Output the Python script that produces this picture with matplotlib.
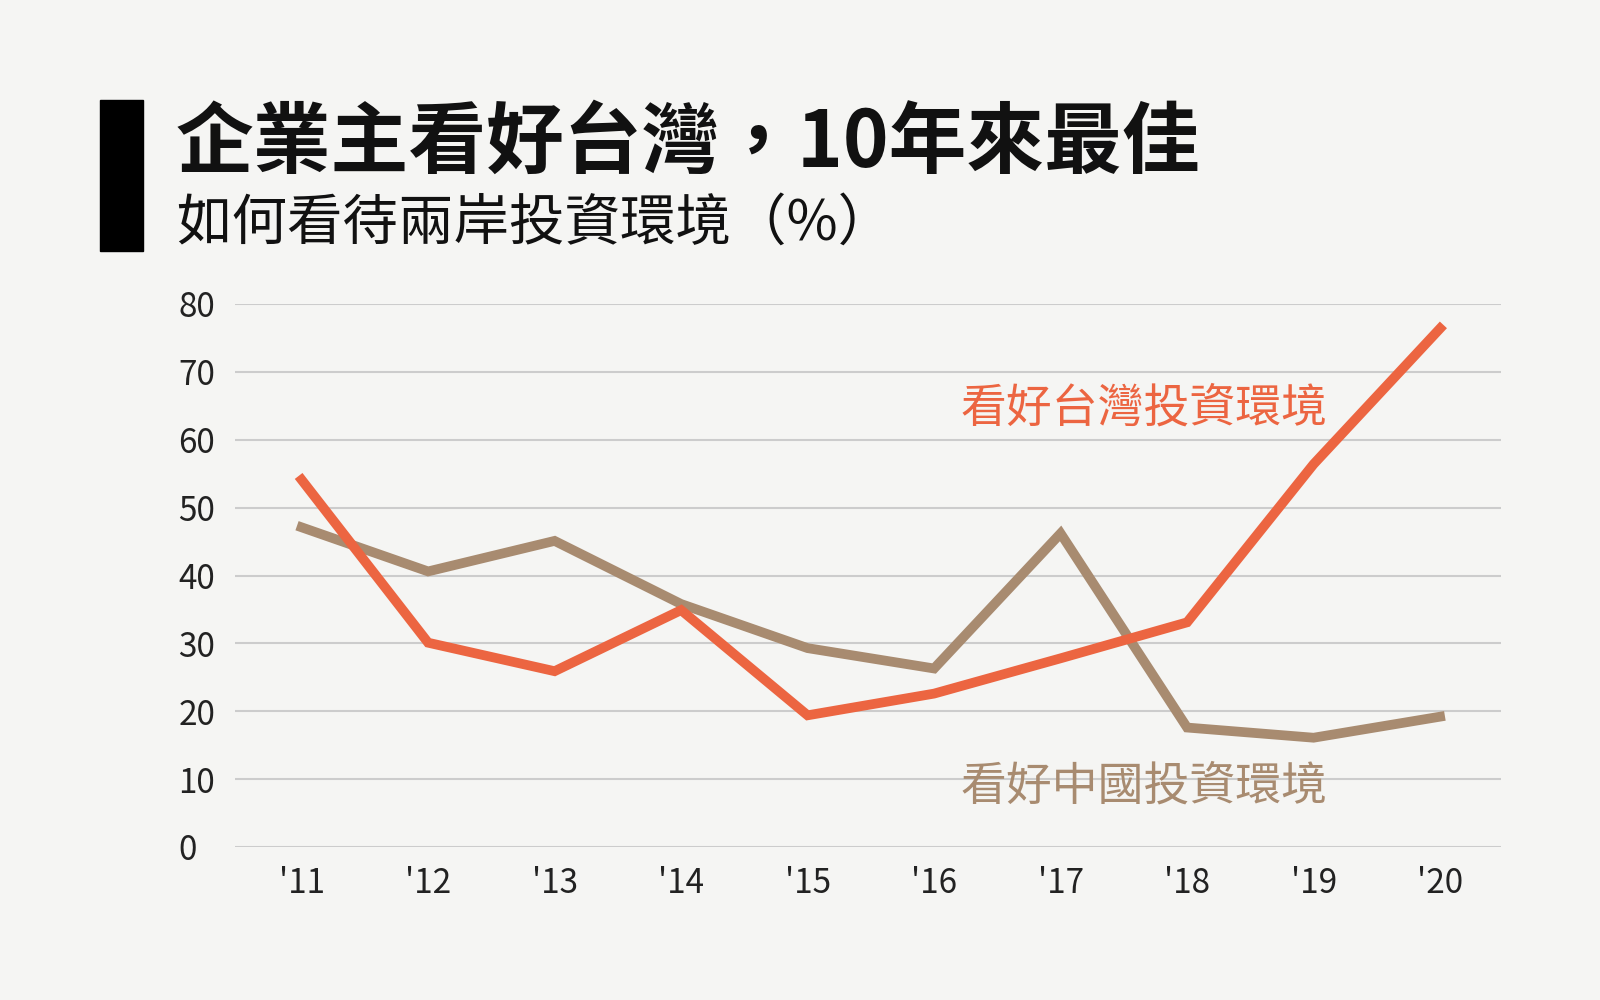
import matplotlib
matplotlib.use('Agg')
import matplotlib.pyplot as plt
from matplotlib.patches import Rectangle

plt.rcParams['font.family'] = ['Noto Sans CJK TC', 'DejaVu Sans']

years = ["'11", "'12", "'13", "'14", "'15", "'16", "'17", "'18", "'19", "'20"]
taiwan = [54.1, 30.1, 25.9, 34.9, 19.4, 22.6, 27.8, 33.1, 56.4, 76.4]
china = [47.1, 40.6, 45.1, 35.8, 29.3, 26.3, 46.2, 17.6, 16.1, 19.2]
yticks = [0, 10, 20, 30, 40, 50, 60, 70, 80]

bg = '#f5f5f3'
orange = '#ec6541'
brown = '#a88b70'

fig = plt.figure(figsize=(16, 10), dpi=100, facecolor=bg)
ax = fig.add_axes([0.147, 0.153, 0.791, 0.543], facecolor=bg)

x = range(len(years))
ax.plot(x, china, color=brown, lw=7, solid_joinstyle='miter', zorder=3)
ax.plot(x, taiwan, color=orange, lw=7, solid_joinstyle='miter', zorder=4)

ax.set_ylim(0, 80)
ax.set_xlim(-0.525, 9.48)
ax.set_yticks(yticks)
ax.set_xticks(list(x))
ax.set_xticklabels(years)
ax.grid(axis='y', color='#cccccc', lw=1.5)
ax.set_axisbelow(True)
for s in ax.spines.values():
    s.set_visible(False)
ax.tick_params(length=0, labelsize=24, colors='#222222')
ax.tick_params(axis='x', pad=14)
ax.tick_params(axis='y', pad=0)
for lab in ax.get_yticklabels():
    lab.set_horizontalalignment('left')
    lab.set_x(-0.045)

ax.text(6.66, 64.7, '看好台灣投資環境', color=orange, fontsize=33, fontweight='medium',
        ha='center', va='center')
ax.text(6.66, 9, '看好中國投資環境', color=brown, fontsize=33, fontweight='medium',
        ha='center', va='center')

fig.patches.append(Rectangle((0.0625, 0.749), 0.027, 0.151, transform=fig.transFigure,
                             color='black'))
fig.text(0.11, 0.856, '企業主看好台灣，10年來最佳', fontsize=56, fontweight='bold',
         va='center', ha='left', color='#111111')
fig.text(0.11, 0.776, '如何看待兩岸投資環境（%）', fontsize=40, va='center', ha='left',
         color='#111111')

fig.savefig('out.png', facecolor=bg)
